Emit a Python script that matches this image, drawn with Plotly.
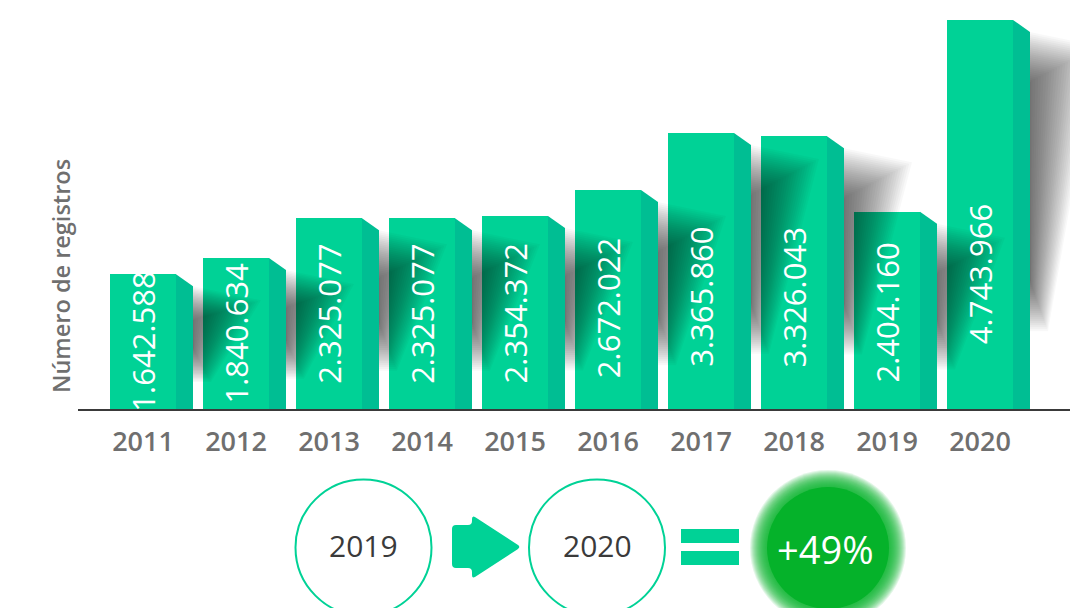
import plotly.graph_objects as go

# ---------------- data ----------------
years = [2011, 2012, 2013, 2014, 2015, 2016, 2017, 2018, 2019, 2020]
values = [1642588, 1840634, 2325077, 2325077, 2354372, 2672022, 3365860, 3326043, 2404160, 4743966]
value_labels = [f"{v:,}".replace(",", ".") for v in values]
axis_title = "Número de registros"
compare_from = "2019"
compare_to = "2020"
growth_label = "+49%"

# ---------------- style ----------------
FRONT = "#00D296"
SIDE = "#00BE93"
GREY = "#6f6f6f"
BLOB = "#05B22A"
FONT = "Open Sans"

W, H = 1081, 608
OFF = 8                      # page body margin compensation
PW, PH = 992, 389
ML = 78 - OFF
MT = 20 - OFF
MR = W - ML - PW
MB = H - MT - PH
STEP_PX = 93
FIRST_CENTER_PX = 143 - OFF
x_lo = -(FIRST_CENTER_PX - ML) / STEP_PX
x_hi = x_lo + PW / STEP_PX
y_hi = max(values)
XU = 1 / STEP_PX          # data units per pixel (x)
YU = y_hi / PH            # data units per pixel (y)

bar_w = 66 * XU
side_w = 17 * XU
side_drop = 12 * YU

idx = list(range(len(years)))
fig = go.Figure()

# front faces
fig.add_bar(x=idx, y=values, width=bar_w,
            marker=dict(color=FRONT, line=dict(width=0)),
            hoverinfo="skip", showlegend=False)

# side faces
for i, v in zip(idx, values):
    xr = i + bar_w / 2
    fig.add_scatter(x=[xr, xr + side_w, xr + side_w, xr, xr],
                    y=[0, 0, v - side_drop, v, 0],
                    fill="toself", fillcolor=SIDE, mode="lines",
                    line=dict(width=0, color=SIDE),
                    hoverinfo="skip", showlegend=False)

# soft (blurred) shadows to the right of each bar: tapering trapezoids
K = 26
ALPHA = 0.027
for i, v in zip(idx, values):
    xs = i + bar_w / 2 + side_w
    h_px = v / YU
    Wtop = 68 * XU
    Wbot = 18 * XU
    Rv = min(50, 0.25 * h_px) * YU
    top_out = v - 12 * YU
    bot_out = v - 0.8 * v
    for k in range(K):
        t = k / (K - 1)
        y1 = top_out - Rv * t
        y0 = max(bot_out + Rv * t, 0)
        if y1 <= y0:
            continue
        wt = max(Wtop * (1 - t), 1 * XU)
        wb = max(Wbot * (1 - t), 1 * XU)
        path = (f"M{xs},{y1} L{xs + wt},{y1 - 14 * YU * (1 - t)} "
                f"L{xs + wb},{y0} L{xs},{y0} Z")
        fig.add_shape(type="path", xref="x", yref="y", path=path,
                      fillcolor=f"rgba(0,0,0,{ALPHA})", line=dict(width=0),
                      layer="above")

# value labels inside bars
T = 95 * YU
for i, v, lab in zip(idx, values, value_labels):
    half = v / 2
    yc = half if half <= T else T + 0.4 * (half - T)
    fig.add_annotation(x=i, y=yc, xref="x", yref="y", text=lab,
                       textangle=-90, showarrow=False,
                       xanchor="center", yanchor="middle",
                       font=dict(family=FONT, size=31, color="white", weight=500))


def px(x):
    return (x - OFF - ML) / PW


def py(y):
    return (MT + PH - (y - OFF)) / PH


# y-axis title
fig.add_annotation(x=px(61), y=py(276), xref="paper", yref="paper",
                   text=axis_title, textangle=-90, showarrow=False,
                   xanchor="center", yanchor="middle",
                   font=dict(family=FONT, size=23.5, color=GREY, weight=600))

# ---------------- bottom infographic ----------------
def circle(cx, cy, r, **kw):
    fig.add_shape(type="circle", xref="paper", yref="paper",
                  x0=px(cx - r), x1=px(cx + r), y0=py(cy + r), y1=py(cy - r),
                  layer="above", **kw)


circle(363.5, 547.5, 68, fillcolor="white", line=dict(color=FRONT, width=2))
circle(597, 547.5, 68, fillcolor="white", line=dict(color=FRONT, width=2))


def rounded_path(pts, r):
    n = len(pts)
    s = ""
    for j in range(n):
        P = pts[j]
        A = pts[j - 1]
        B = pts[(j + 1) % n]

        def toward(Q):
            dx, dy = Q[0] - P[0], Q[1] - P[1]
            d = (dx * dx + dy * dy) ** 0.5
            return (P[0] + r * dx / d, P[1] + r * dy / d)

        a, b = toward(A), toward(B)
        s += ("M" if j == 0 else "L") + f"{px(a[0])},{py(a[1])} "
        s += f"Q{px(P[0])},{py(P[1])} {px(b[0])},{py(b[1])} "
    return s + "Z"


arrow_pts = [(452, 525), (472, 525), (472, 515), (521, 547),
             (472, 579), (472, 568), (452, 568)]
fig.add_shape(type="path", xref="paper", yref="paper",
              path=rounded_path(arrow_pts, 4), fillcolor=FRONT,
              line=dict(width=0), layer="above")

for (y0, y1) in [(529, 543), (551, 565)]:
    fig.add_shape(type="rect", xref="paper", yref="paper",
                  x0=px(681), x1=px(739), y0=py(y1), y1=py(y0),
                  fillcolor=FRONT, line=dict(width=0), layer="above")

# blurred green blob
for r in range(78, 61, -1):
    circle(828, 548, r, fillcolor="rgba(5,178,42,0.11)", line=dict(width=0))
circle(828, 548, 61, fillcolor=BLOB, line=dict(width=0))

for cx, txt in [(363.5, compare_from), (597, compare_to)]:
    fig.add_annotation(x=px(cx), y=py(545), xref="paper", yref="paper",
                       text=txt, showarrow=False, xanchor="center", yanchor="middle",
                       font=dict(family=FONT, size=30, color="#3a3a3a"))
fig.add_annotation(x=px(825), y=py(549), xref="paper", yref="paper",
                   text=growth_label, showarrow=False, xanchor="center", yanchor="middle",
                   font=dict(family=FONT, size=38, color="white"))

# ---------------- layout ----------------
fig.update_layout(
    width=W, height=H,
    margin=dict(l=ML, r=MR, t=MT, b=MB, pad=0),
    paper_bgcolor="white", plot_bgcolor="white",
    showlegend=False, bargap=0,
    xaxis=dict(range=[x_lo, x_hi], tickmode="array", tickvals=idx,
               ticktext=[str(y) for y in years], showline=True,
               linecolor="#3a3a3a", linewidth=1.5, ticks="",
               showgrid=False, zeroline=False, ticklabelstandoff=8,
               tickfont=dict(family=FONT, size=27, color=GREY, weight=600)),
    yaxis=dict(range=[0, y_hi], visible=False, showgrid=False, zeroline=False),
)

fig.write_html("out.html")
